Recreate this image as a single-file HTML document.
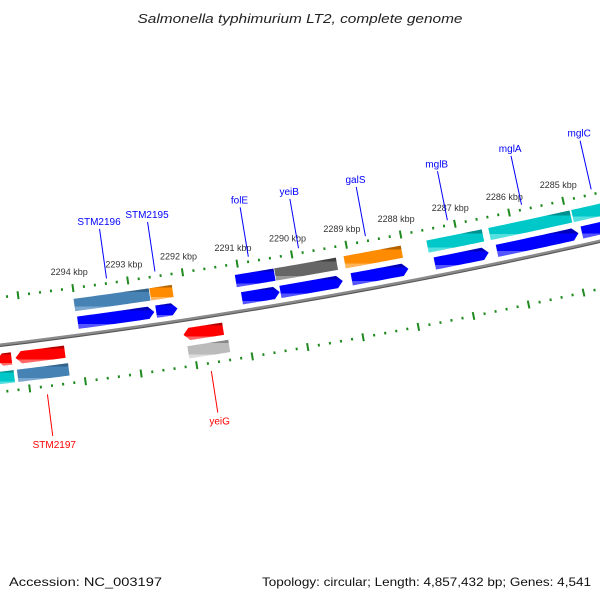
<!DOCTYPE html>
<html><head><meta charset="utf-8"><style>
html,body{margin:0;padding:0;background:#fff}
svg{display:block;font-family:"Liberation Sans","DejaVu Sans",sans-serif}
</style></head><body>
<svg id="map" width="600" height="600" viewBox="0 0 600 600" xmlns="http://www.w3.org/2000/svg">
<defs>
<linearGradient id="g-blue" x1="0" y1="0" x2="0" y2="1"><stop offset="0" stop-color="#0000b8"/><stop offset="0.18" stop-color="#0000b8"/><stop offset="0.18" stop-color="#0000ff"/><stop offset="0.78" stop-color="#0000ff"/><stop offset="0.78" stop-color="#5555ff"/><stop offset="1" stop-color="#5555ff"/></linearGradient>
<linearGradient id="g-steel" x1="0" y1="0" x2="0" y2="1"><stop offset="0" stop-color="#33648c"/><stop offset="0.18" stop-color="#33648c"/><stop offset="0.18" stop-color="#4682b4"/><stop offset="0.78" stop-color="#4682b4"/><stop offset="0.78" stop-color="#7aa8d0"/><stop offset="1" stop-color="#7aa8d0"/></linearGradient>
<linearGradient id="g-orange" x1="0" y1="0" x2="0" y2="1"><stop offset="0" stop-color="#b36200"/><stop offset="0.18" stop-color="#b36200"/><stop offset="0.18" stop-color="#ff8c00"/><stop offset="0.78" stop-color="#ff8c00"/><stop offset="0.78" stop-color="#ffb45a"/><stop offset="1" stop-color="#ffb45a"/></linearGradient>
<linearGradient id="g-cyan" x1="0" y1="0" x2="0" y2="1"><stop offset="0" stop-color="#009090"/><stop offset="0.18" stop-color="#009090"/><stop offset="0.18" stop-color="#00c8c8"/><stop offset="0.78" stop-color="#00c8c8"/><stop offset="0.78" stop-color="#55e0e0"/><stop offset="1" stop-color="#55e0e0"/></linearGradient>
<linearGradient id="g-red" x1="0" y1="0" x2="0" y2="1"><stop offset="0" stop-color="#b00000"/><stop offset="0.18" stop-color="#b00000"/><stop offset="0.18" stop-color="#ff0000"/><stop offset="0.78" stop-color="#ff0000"/><stop offset="0.78" stop-color="#ff6666"/><stop offset="1" stop-color="#ff6666"/></linearGradient>
<linearGradient id="g-gray" x1="0" y1="0" x2="0" y2="1"><stop offset="0" stop-color="#404040"/><stop offset="0.18" stop-color="#404040"/><stop offset="0.18" stop-color="#666666"/><stop offset="0.78" stop-color="#666666"/><stop offset="0.78" stop-color="#999999"/><stop offset="1" stop-color="#999999"/></linearGradient>
<linearGradient id="g-lgray" x1="0" y1="0" x2="0" y2="1"><stop offset="0" stop-color="#888"/><stop offset="0.18" stop-color="#888"/><stop offset="0.18" stop-color="#bbbbbb"/><stop offset="0.78" stop-color="#bbbbbb"/><stop offset="0.78" stop-color="#dddddd"/><stop offset="1" stop-color="#dddddd"/></linearGradient>
</defs>
<text x="300" y="23" text-anchor="middle" font-size="13" font-style="italic" fill="#222" textLength="325" lengthAdjust="spacingAndGlyphs">Salmonella typhimurium LT2, complete genome</text>
<g id="layer"></g>
<text x="9" y="586" font-size="12" fill="#111" textLength="153" lengthAdjust="spacingAndGlyphs">Accession: NC_003197</text>
<text x="591" y="586" text-anchor="end" font-size="12" fill="#111" textLength="329" lengthAdjust="spacingAndGlyphs">Topology: circular; Length: 4,857,432 bp; Genes: 4,541</text>
</svg>
<script>
// ---- data (kbp) ----
const tickLabelsKbp = [2285,2286,2287,2288,2289,2290,2291,2292,2293,2294];
// upper track 1 (slabs)
const up1Start = [2294.02,2292.64,2291.08,2290.36,2289.09,2287.57,2286.43,2284.90];
const up1End   = [2292.64,2292.22,2290.36,2289.22,2288.03,2286.54,2284.92,2283.80];
const up1Color = ['g-steel','g-orange','g-blue','g-gray','g-orange','g-cyan','g-cyan','g-cyan'];
// upper track 2 (forward genes)
const up2Start = [2294.00,2292.58,2291.02,2290.32,2289.02,2287.50,2286.36,2284.80];
const up2End   = [2292.60,2292.18,2290.32,2289.17,2287.97,2286.50,2284.85,2283.80];
// lower track 1 (reverse genes)
const lo1Start = [2295.53,2295.19,2292.16];
const lo1End   = [2295.25,2294.29,2291.43];
// lower track 2 (slabs)
const lo2Start = [2295.55,2295.19,2292.12];
const lo2End   = [2295.24,2294.26,2291.37];
const lo2Color = ['g-cyan','g-steel','g-lgray'];
// labels
const upperLabels = ['STM2196','STM2195','folE','yeiB','galS','mglB','mglA','mglC'];
const upperLabelKbp = [2293.375,2292.49,2290.78,2289.86,2288.63,2287.12,2285.75,2284.46];
const lowerLabels = ['STM2197','yeiG'];
const lowerLabelKbp = [2294.70,2291.76];

// ---- geometry ----
const CX=-704, CY=-5497, R=5884, PHI0=0.13350, DPHI=0.009481;
function ang(k){return PHI0+(2294-k)*DPHI;}
function pt(k,d){const a=ang(k),r=R+d;return [CX+r*Math.sin(a),CY+r*Math.cos(a)];}
const NS='http://www.w3.org/2000/svg';
const layer=document.getElementById('layer');
function mk(tag,attrs){const e=document.createElementNS(NS,tag);for(const k in attrs)e.setAttribute(k,attrs[k]);layer.appendChild(e);return e;}
function arcPts(k1,k2,d,n){const a=[];for(let i=0;i<=n;i++){a.push(pt(k1+(k2-k1)*i/n,d));}return a;}
function fmt(p){return p.map(q=>q[0].toFixed(2)+','+q[1].toFixed(2)).join(' ');}
const HEAD=0.11;
// shape: dir 0 slab, -1 arrow toward smaller kbp (right), +1 arrow toward larger kbp (left)
function shape(kStart,kEnd,dc,h,dir){
  const hi=Math.max(kStart,kEnd), lo=Math.min(kStart,kEnd);
  const d1=dc-h/2,d2=dc+h/2;
  let a=hi,b=lo,pts=[];
  if(dir===-1){b=Math.min(lo+HEAD,hi);}
  if(dir===1){a=Math.max(hi-HEAD,lo);}
  pts=pts.concat(arcPts(a,b,d1,16));
  if(dir===-1)pts.push(pt(lo,dc));
  pts=pts.concat(arcPts(b,a,d2,16));
  if(dir===1)pts.push(pt(hi,dc));
  return fmt(pts);
}

// backbone
const bb=arcPts(2296.5,2283.0,0,60);
let e;
e=mk('polyline',{points:fmt(arcPts(2296.5,2283.0,1.2,60)),fill:'none',stroke:'#555',"stroke-width":2.2});


e=mk('polyline',{points:fmt(bb),fill:'none',stroke:'#8a8a8a',"stroke-width":2.4});



// tick rings
[-47,47].forEach((dr,ri)=>{
  for(let t=22830;t<=22970;t+=2){
    const k=t/10, major=(t%10===0), L=major?4:1.3;
    const p1=pt(k,dr-L),p2=pt(k,dr+L);
    const ln=mk('line',{x1:p1[0],y1:p1[1],x2:p2[0],y2:p2[1],stroke:'#1f8a1f',"stroke-width":2});
    
    
  }
});
tickLabelsKbp.forEach(k=>{
  const p=pt(k,-60);
  const tx=mk('text',{x:(p[0]-2).toFixed(1),y:p[1].toFixed(1),"text-anchor":"middle","font-size":"9",fill:"#333"});
  tx.textContent=k+' kbp';
  
  
});

// features
up1Start.forEach((s,i)=>{
  const f=mk('polygon',{points:shape(s,up1End[i],-30,13,0),fill:'url(#'+up1Color[i]+')',stroke:'#fff',"stroke-width":0.6});
  
  
});
up2Start.forEach((s,i)=>{
  const f=mk('polygon',{points:shape(s,up2End[i],-12,13,-1),fill:'url(#g-blue)',stroke:'#fff',"stroke-width":0.6});
  
  
});
lo1Start.forEach((s,i)=>{
  const f=mk('polygon',{points:shape(s,lo1End[i],15,13,1),fill:'url(#g-red)',stroke:'#fff',"stroke-width":0.6});
  
  
});
lo2Start.forEach((s,i)=>{
  const f=mk('polygon',{points:shape(s,lo2End[i],33,13,0),fill:'url(#'+lo2Color[i]+')',stroke:'#fff',"stroke-width":0.6});
  
  
});

// labels
upperLabels.forEach((name,i)=>{
  const k=upperLabelKbp[i];
  const a=pt(k,-52),b=pt(k,-102),t=pt(k,-106);
  const ln=mk('line',{x1:a[0],y1:a[1],x2:b[0],y2:b[1],stroke:'#0000ff',"stroke-width":1});
  
  
  const tx=mk('text',{x:t[0].toFixed(1),y:t[1].toFixed(1),"text-anchor":"middle","font-size":"10",fill:"#0000ff"});
  tx.textContent=name;
  
  
});
lowerLabels.forEach((name,i)=>{
  const k=lowerLabelKbp[i];
  const a=pt(k,55),b=pt(k,97),t=pt(k,109);
  const ln=mk('line',{x1:a[0],y1:a[1],x2:b[0],y2:b[1],stroke:'#ff0000',"stroke-width":1});
  
  
  const tx=mk('text',{x:t[0].toFixed(1),y:t[1].toFixed(1),"text-anchor":"middle","font-size":"10",fill:"#ff0000"});
  tx.textContent=name;
  
  
});
</script>
</body></html>
